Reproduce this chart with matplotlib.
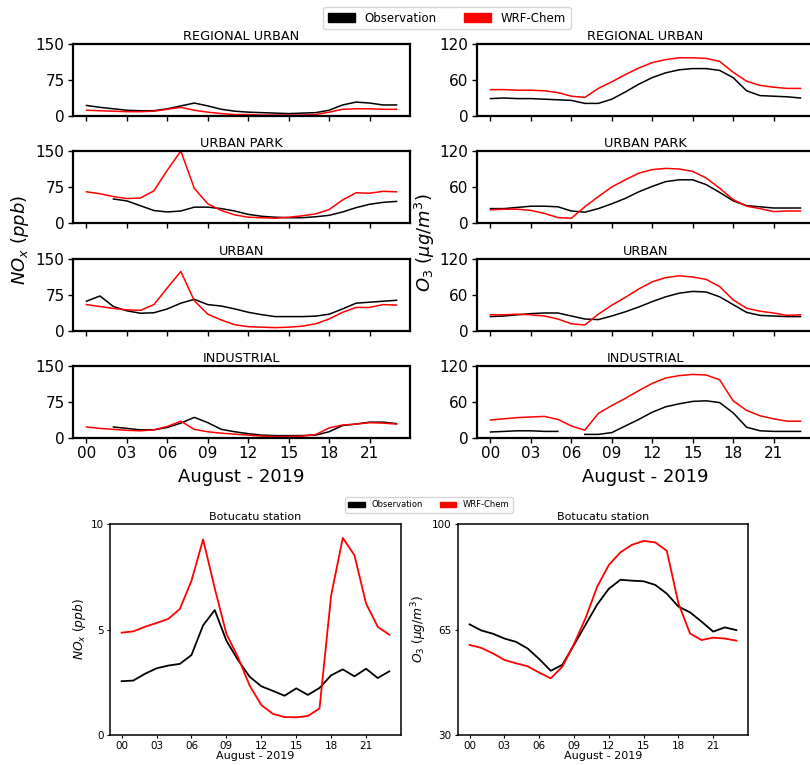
import numpy as np
import matplotlib
matplotlib.use('Agg')
import matplotlib.pyplot as plt
from matplotlib.patches import Patch

nan = np.nan
hours = np.arange(24)
hour_ticks = [0, 3, 6, 9, 12, 15, 18, 21]
hour_labels = ['00', '03', '06', '09', '12', '15', '18', '21']
stations = ['REGIONAL URBAN', 'URBAN PARK', 'URBAN', 'INDUSTRIAL']

# NOx (ppb) - observation / WRF-Chem
nox_obs = [
    [22, 18, 15, 12, 11, 11, 15, 21, 27, 21, 14, 10, 8, 7, 6, 5, 6, 7, 12, 23, 29, 27, 23, 23],
    [nan, nan, 50, 46, 36, 26, 23, 25, 33, 33, 30, 25, 18, 14, 12, 11, 11, 13, 16, 23, 32, 39, 43, 45],
    [62, 73, 51, 42, 37, 38, 46, 58, 66, 55, 52, 46, 39, 34, 30, 30, 30, 31, 35, 46, 58, 60, 62, 64],
    [nan, nan, 23, 20, 17, 17, 22, 31, 43, 32, 18, 13, 9, 6, 5, 5, 5, 6, 13, 26, 29, 33, 33, 30],
]
nox_wrf = [
    [12, 11, 10, 9, 9, 10, 14, 18, 12, 8, 5, 3, 3, 2, 2, 2, 2, 3, 8, 14, 15, 15, 14, 14],
    [65, 61, 55, 51, 52, 67, 110, 150, 72, 40, 26, 17, 12, 11, 10, 12, 15, 19, 28, 48, 63, 62, 66, 65],
    [55, 51, 47, 44, 43, 55, 90, 124, 63, 35, 23, 13, 9, 8, 7, 8, 10, 15, 25, 39, 49, 49, 55, 54],
    [23, 20, 18, 16, 15, 17, 24, 35, 18, 13, 10, 8, 6, 4, 3, 3, 4, 7, 21, 27, 29, 32, 31, 29],
]

# O3 (ug/m3) - observation / WRF-Chem
o3_obs = [
    [29, 30, 29, 29, 28, 27, 26, 21, 21, 28, 40, 53, 64, 72, 77, 79, 79, 76, 64, 42, 34, 33, 32, 30],
    [24, 24, 26, 28, 28, 27, 20, 18, 24, 32, 41, 52, 61, 69, 72, 72, 64, 51, 37, 29, 27, 25, 25, 25],
    [24, 25, 27, 29, 30, 30, 25, 20, 19, 25, 32, 40, 49, 57, 63, 66, 65, 57, 44, 31, 26, 25, 24, 24],
    [10, 11, 12, 12, 11, 11, nan, 6, 6, 9, 20, 31, 43, 52, 57, 61, 62, 59, 42, 18, 12, 11, 11, 11],
]
o3_wrf = [
    [44, 44, 43, 43, 42, 39, 33, 31, 46, 57, 69, 80, 89, 94, 97, 97, 96, 91, 73, 58, 51, 48, 46, 46],
    [22, 23, 23, 21, 16, 9, 8, 27, 44, 60, 72, 83, 89, 91, 90, 86, 75, 58, 39, 28, 24, 19, 20, 20],
    [27, 27, 28, 27, 25, 20, 12, 10, 28, 43, 56, 70, 82, 89, 92, 90, 86, 74, 52, 38, 33, 30, 26, 27],
    [30, 32, 34, 35, 36, 31, 20, 13, 41, 54, 66, 79, 91, 100, 104, 106, 105, 97, 62, 46, 37, 32, 28, 28],
]

# Botucatu station
bot_nox_obs = [2.55, 2.58, 2.9, 3.16, 3.29, 3.37, 3.79, 5.2, 5.92, 4.47, 3.55, 2.76,
               2.31, 2.09, 1.86, 2.21, 1.9, 2.23, 2.83, 3.11, 2.78, 3.14, 2.7, 3.02]
bot_nox_wrf = [4.85, 4.91, 5.13, 5.31, 5.5, 5.97, 7.31, 9.27, 6.95, 4.79, 3.68, 2.34,
               1.42, 1.0, 0.85, 0.84, 0.9, 1.26, 6.62, 9.34, 8.52, 6.23, 5.13, 4.75]
bot_o3_obs = [66.7, 64.7, 63.6, 62.0, 60.9, 58.7, 55.2, 51.3, 53.3, 59.9, 66.6, 73.3,
              78.5, 81.5, 81.2, 81.0, 79.8, 76.9, 72.6, 70.7, 67.6, 64.3, 65.7, 64.8]
bot_o3_wrf = [59.9, 58.9, 57.1, 54.9, 53.8, 52.8, 50.7, 48.8, 52.7, 60.2, 68.8, 79.2,
              86.4, 90.6, 93.1, 94.4, 93.9, 91.1, 73.7, 63.7, 61.5, 62.3, 62.0, 61.3]

W, H = 810, 765
fig = plt.figure(figsize=(W / 100, H / 100), dpi=100)

def box(x0, y0, x1, y1):
    # pixel box (from top-left) -> figure fraction
    return [x0 / W, 1 - y1 / H, (x1 - x0) / W, (y1 - y0) / H]

row_tops = [44, 151, 259, 366]
for i in range(4):
    for j, (obs, wrf, ymax, yt) in enumerate([(nox_obs, nox_wrf, 150, [0, 75, 150]),
                                              (o3_obs, o3_wrf, 120, [0, 60, 120])]):
        x0 = 73 if j == 0 else 477
        ax = fig.add_axes(box(x0, row_tops[i], x0 + 337, row_tops[i] + 72))
        ax.plot(hours, obs[i], color='black', lw=1.1)
        ax.plot(hours, wrf[i], color='red', lw=1.1)
        ax.set_xlim(-1, 24)
        ax.set_ylim(0, ymax)
        ax.set_yticks(yt)
        ax.set_xticks(hour_ticks)
        ax.tick_params(labelsize=11, width=1, length=3.5, pad=2.5)
        for s in ax.spines.values():
            s.set_linewidth(1.6)
        ax.set_title(stations[i], fontsize=9.3, pad=3)
        if i == 3:
            ax.set_xticklabels(hour_labels)
            ax.set_xlabel('August - 2019', fontsize=13, labelpad=5)
        else:
            ax.set_xticklabels([])

fig.text(20 / W, 1 - 240 / H, r'$NO_x\ (ppb)$', rotation=90, fontsize=13,
         ha='center', va='center')
fig.text(425 / W, 1 - 243 / H, r'$O_3\ (\mu g/m^3)$', rotation=90, fontsize=13,
         ha='center', va='center')

handles = [Patch(color='black', label='Observation'), Patch(color='red', label='WRF-Chem')]
fig.legend(handles=handles, loc='upper center', bbox_to_anchor=(447 / W, 1 - 7 / H),
           ncol=2, fontsize=8.5, handlelength=2.3, columnspacing=2.3,
           borderaxespad=0)

# Botucatu
for k, (obs, wrf, ylim, yt, ylab, x0, x1) in enumerate([
        (bot_nox_obs, bot_nox_wrf, (0, 10), [0, 5, 10], r'$NO_x\ (ppb)$', 110, 401),
        (bot_o3_obs, bot_o3_wrf, (30, 100), [30, 65, 100], r'$O_3\ (\mu g/m^3)$', 458, 748)]):
    ax = fig.add_axes(box(x0, 524, x1, 735))
    ax.plot(hours, obs, color='black', lw=1.3)
    ax.plot(hours, wrf, color='red', lw=1.3)
    ax.set_xlim(-1, 24)
    ax.set_ylim(*ylim)
    ax.set_yticks(yt)
    ax.set_xticks(hour_ticks)
    ax.set_xticklabels(hour_labels)
    ax.tick_params(labelsize=7.5, length=2.5, width=0.8, pad=2)
    for s in ax.spines.values():
        s.set_linewidth(1.1)
    ax.set_title('Botucatu station', fontsize=8, pad=3)
    ax.set_xlabel('August - 2019', fontsize=8, labelpad=0)
    ax.set_ylabel(ylab, fontsize=8.8, labelpad=2)

fig.legend(handles=handles, loc='upper center', bbox_to_anchor=(429 / W, 1 - 497 / H),
           ncol=2, fontsize=6, borderaxespad=0)

fig.savefig('out.png', dpi=100)
